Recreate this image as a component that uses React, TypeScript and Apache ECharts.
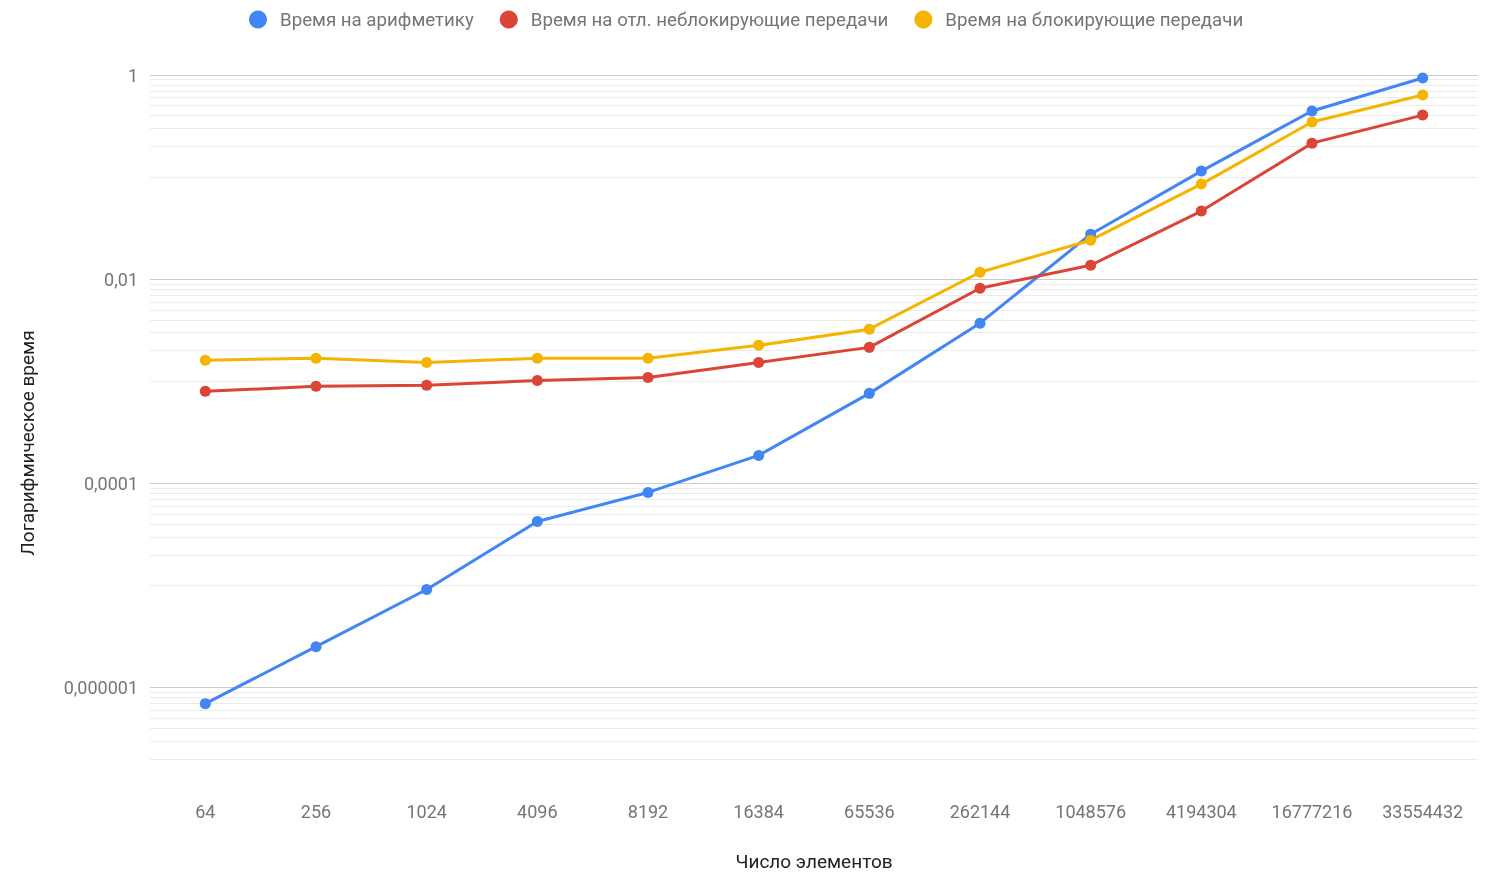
import React, { useEffect, useRef } from "react";
import * as echarts from "echarts";

const categories = ["64", "256", "1024", "4096", "8192", "16384", "65536", "262144", "1048576", "4194304", "16777216", "33554432"];

const arithmetic = [6.97e-7, 2.52e-6, 9.14e-6, 4.24e-5, 8.16e-5, 1.88e-4, 7.62e-4, 3.71e-3, 0.0276, 0.1145, 0.444, 0.935];
const nonBlocking = [7.98e-4, 8.93e-4, 9.14e-4, 1.02e-3, 1.09e-3, 1.53e-3, 2.15e-3, 8.16e-3, 0.0137, 0.0465, 0.215, 0.405];
const blocking = [1.61e-3, 1.68e-3, 1.53e-3, 1.68e-3, 1.68e-3, 2.25e-3, 3.24e-3, 0.0117, 0.0241, 0.0854, 0.346, 0.637];

const seriesNames = [
  "Время на арифметику",
  "Время на отл. неблокирующие передачи",
  "Время на блокирующие передачи",
];

const yMin = 2e-7;
const yMax = 1;
const majorTicks = [1, 0.01, 0.0001, 0.000001];
const majorTickLabels = ["1", "0,01", "0,0001", "0,000001"];
const minorMultipliers = [0.9, 0.8, 0.7, 0.6, 0.5, 0.4, 0.3, 0.2, 0.1];

const xTitle = "Число элементов";
const yTitle = "Логарифмическое время";

export default function App() {
  const ref = useRef<HTMLDivElement>(null);
  useEffect(() => {
    if (!ref.current) return;
    const chart = echarts.init(ref.current, undefined, { renderer: "svg" });

    const minorTicks: number[] = [];
    majorTicks.forEach((m) => {
      minorMultipliers.forEach((k) => {
        const v = m * k;
        if (v >= yMin * 0.999) minorTicks.push(v);
      });
    });

    const colors = ["#4285F4", "#DB4437", "#F4B400"];
    const datasets = [arithmetic, nonBlocking, blocking];

    const labelFor = (val: number) => {
      let best = 0;
      let bd = Infinity;
      majorTicks.forEach((m, i) => {
        const d = Math.abs(Math.log10(val) - Math.log10(m));
        if (d < bd) {
          bd = d;
          best = i;
        }
      });
      return bd < 0.01 ? majorTickLabels[best] : "";
    };

    chart.setOption({
      animation: false,
      textStyle: { fontFamily: "Roboto" },
      color: colors,
      legend: {
        data: seriesNames,
        top: 5,
        left: 244,
        icon: "circle",
        itemWidth: 18,
        itemHeight: 18,
        itemGap: 26,
        textStyle: { fontSize: 18.7, color: "#757575", fontFamily: "Roboto", padding: [0, 0, 0, 8] },
      },
      graphic: [
        {
          type: "text",
          x: 27,
          y: 443,
          rotation: Math.PI / 2,
          style: {
            text: yTitle,
            fontSize: 19,
            fill: "#222222",
            fontFamily: "Roboto",
            align: "center",
            verticalAlign: "middle",
          },
        },
      ],
      grid: { left: 150, right: 18, top: 75, bottom: 121, containLabel: false },
      xAxis: {
        type: "category",
        data: categories,
        boundaryGap: true,
        axisLine: { show: false },
        axisTick: { show: false },
        splitLine: { show: false },
        axisLabel: { margin: 43, fontSize: 18, color: "#757575", fontFamily: "Roboto", interval: 0 },
        name: xTitle,
        nameLocation: "middle",
        nameGap: 93,
        nameTextStyle: { fontSize: 19, color: "#222222", fontFamily: "Roboto" },
      },
      yAxis: [
        {
          type: "log",
          logBase: 10,
          min: yMin,
          max: yMax,
          axisLine: { show: false },
          axisTick: { show: false, customValues: minorTicks },
          splitLine: { show: true, lineStyle: { color: "#ebebeb", width: 1 } },
          axisLabel: { show: false },
          z: 0,
        },
        {
          type: "log",
          logBase: 10,
          min: yMin,
          max: yMax,
          position: "left",
          axisLine: { show: false },
          axisTick: { show: false, customValues: majorTicks },
          splitLine: { show: true, lineStyle: { color: "#cccccc", width: 1 } },
          axisLabel: {
            customValues: majorTicks,
            formatter: (v: number) => labelFor(v),
            margin: 12,
            fontSize: 18,
            color: "#757575",
            fontFamily: "Roboto",
          },
          z: 1,
        },
      ],
      series: datasets.map((d, i) => ({
        name: seriesNames[i],
        type: "line",
        data: d,
        yAxisIndex: 1,
        z: 3,
        symbol: "circle",
        symbolSize: 11,
        showSymbol: true,
        lineStyle: { width: 3, color: colors[i] },
        itemStyle: { color: colors[i] },
        emphasis: { disabled: true },
      })),
    });
    return () => chart.dispose();
  }, []);
  return <div ref={ref} style={{ position: "fixed", left: 0, top: 0, width: 1496, height: 880 }} />;
}
